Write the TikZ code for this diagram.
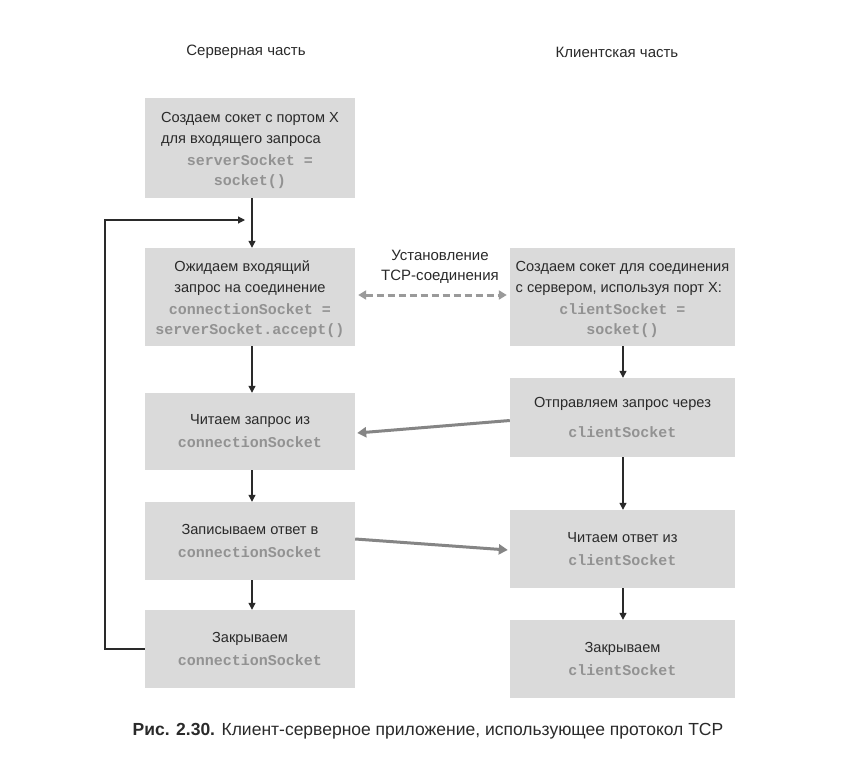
\documentclass[tikz,border=0pt]{standalone}
\usepackage{fontspec}
\setmainfont{Liberation Sans}
\newfontfamily\codefnt{Liberation Mono}
\usetikzlibrary{arrows.meta,calc}
\definecolor{boxgray}{HTML}{DADADA}
\definecolor{codegray}{HTML}{929292}
\definecolor{ink}{HTML}{2A2A2A}
\definecolor{arrgray}{HTML}{858585}
\definecolor{dashgray}{HTML}{9A9A9A}
\newcommand{\cd}[1]{{\codefnt\bfseries\fontsize{15}{20}\selectfont\color{codegray}#1}}
\tikzset{
  box/.style={fill=boxgray, draw=none, minimum width=210pt, align=center, text=ink,
    font=\fontsize{14.6}{21}\selectfont, inner sep=0pt},
  cbox/.style={box, minimum width=225pt},
  arr/.style={draw=ink, line width=1.2pt, -{Triangle[length=7pt,width=7pt]}},
  garr/.style={draw=arrgray, line width=3pt, -{Triangle[length=9pt,width=10pt]}},
  darr/.style={draw=dashgray, line width=3pt, dash pattern=on 7pt off 4pt,
    {Triangle[length=8pt,width=9pt]}-{Triangle[length=8pt,width=9pt]}},
  hdr/.style={text=ink, font=\fontsize{15}{18}\selectfont},
}
\begin{document}
\begin{tikzpicture}[x=1pt,y=-1pt]
\useasboundingbox[fill=white] (0,0) rectangle (862,771);

\node[hdr] (hs) at (246,52) {Серверная часть};
\node[hdr] (hc) at (617,52) {Клиентская часть};

% server column
\node[box, minimum height=100pt] (s1) at (250,148)
  {\begin{tabular}{@{}l@{}}Создаем сокет с портом X\\для входящего запроса\end{tabular}\\[4pt]
   \cd{serverSocket =}\\[-1pt]\cd{socket()}};
\node[box, minimum height=98pt] (s2) at (250,297)
  {\begin{tabular}{@{}l@{}}Ожидаем входящий\\запрос на соединение\end{tabular}\\[4pt]
   \cd{connectionSocket =}\\[-1pt]\cd{serverSocket.accept()}};
\node[box, minimum height=77pt] (s3) at (250,431.5)
  {Читаем запрос из\\[2pt]\cd{connectionSocket}};
\node[box, minimum height=78pt] (s4) at (250,541)
  {Записываем ответ в\\[2pt]\cd{connectionSocket}};
\node[box, minimum height=78pt] (s5) at (250,649)
  {Закрываем\\[2pt]\cd{connectionSocket}};

% client column
\node[cbox, minimum height=98pt] (c1) at (622.5,297)
  {\begin{tabular}{@{}l@{}}Создаем сокет для соединения\\с сервером, используя порт X:\end{tabular}\\[4pt]
   \cd{clientSocket =}\\[-1pt]\cd{socket()}};
\node[cbox, minimum height=79pt] (c2) at (622.5,417.5)
  {Отправляем запрос через\\[9pt]\cd{clientSocket}};
\node[cbox, minimum height=78pt] (c3) at (622.5,549)
  {Читаем ответ из\\[2pt]\cd{clientSocket}};
\node[cbox, minimum height=78pt] (c4) at (622.5,659)
  {Закрываем\\[2pt]\cd{clientSocket}};

% server flow
\coordinate (join) at (245,220);
\draw[arr] (s1.south -| 252,0) -- (s2.north -| 252,0);
\draw[arr] (s2.south -| 252,0) -- (s3.north -| 252,0);
\draw[arr] (s3.south -| 252,0) -- (s4.north -| 252,0);
\draw[arr] (s4.south -| 252,0) -- (s5.north -| 252,0);
\draw[arr] (s5.west) -- (105,649) -- (105,220) -- (join);

% client flow
\draw[arr] (c1.south -| 623,0) -- (c2.north -| 623,0);
\draw[arr] (c2.south -| 623,0) -- (c3.north -| 623,0);
\draw[arr] (c3.south -| 623,0) -- (c4.north -| 623,0);

% cross connections
\draw[darr] ($(s2.east)+(3,-2)$) -- ($(c1.west)+(-3,-2)$);
\node[hdr, align=center, font=\fontsize{15}{20}\selectfont] (tcp) at (440,267)
  {Установление\\TCP-соединения};
\draw[garr] ($(c2.west)+(0,3)$) -- ($(s3.east)+(2,1.5)$);
\draw[garr] ($(s4.east)+(0,-2)$) -- ($(c3.west)+(-2,1)$);

% caption
\node[text=ink, font=\fontsize{17.5}{20}\selectfont] (cap) at (428,731)
  {\textbf{Рис. 2.30.} Клиент-серверное приложение, использующее протокол TCP};
\end{tikzpicture}
\end{document}
